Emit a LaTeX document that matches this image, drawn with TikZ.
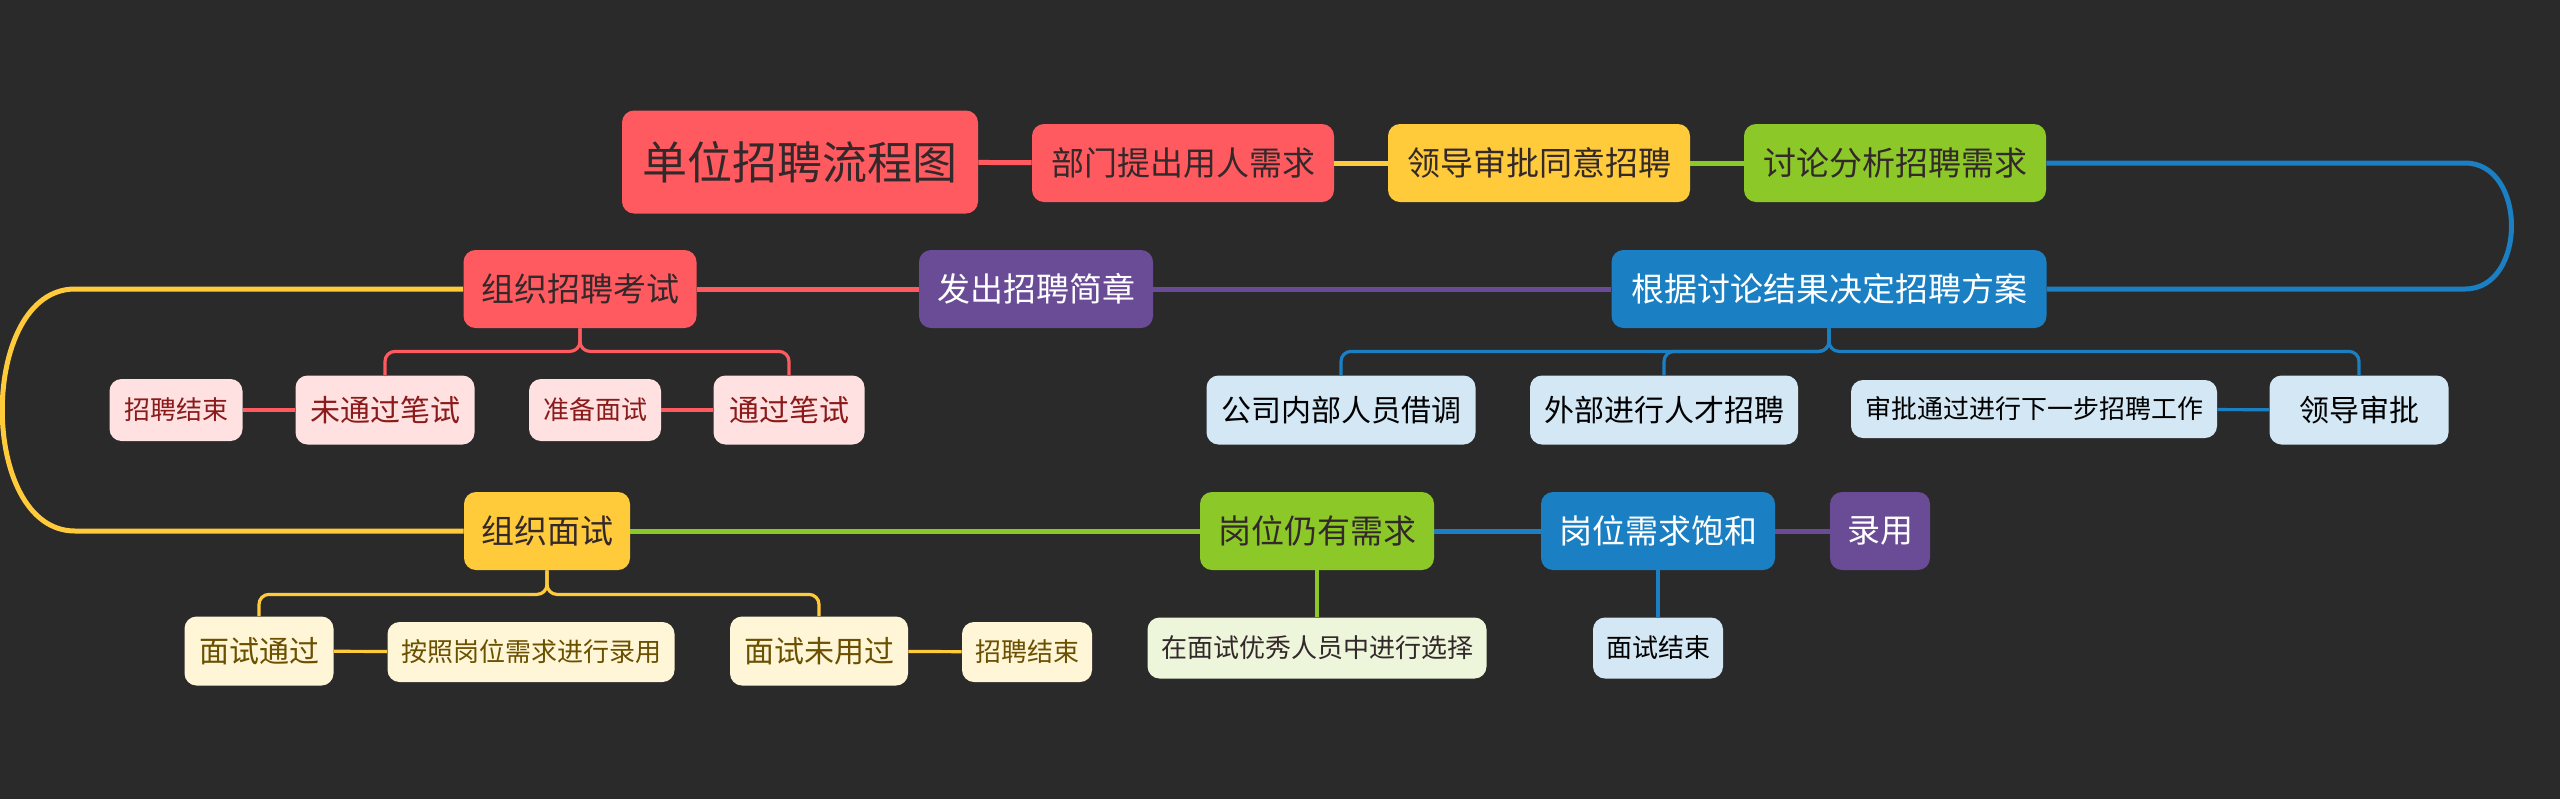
\documentclass[tikz,border=0pt]{standalone}
\usepackage{fontspec}
\setmainfont{Noto Sans CJK SC}
\usepackage{tikz}
\usetikzlibrary{positioning,calc}
\definecolor{bgcolor}{HTML}{2A2A2A}
\definecolor{Rcolor}{HTML}{FF5A5F}
\definecolor{Ycolor}{HTML}{FFCB3B}
\definecolor{Gcolor}{HTML}{8CC928}
\definecolor{Bcolor}{HTML}{1B80C3}
\definecolor{Pcolor}{HTML}{6A4C96}
\definecolor{Rlight}{HTML}{FFE1E1}
\definecolor{Ylight}{HTML}{FFF6D8}
\definecolor{Glight}{HTML}{EDF5DA}
\definecolor{Blight}{HTML}{D3E7F4}
\definecolor{darktext}{HTML}{33282A}
\definecolor{redtext}{HTML}{8B1A1A}
\definecolor{browntext}{HTML}{6B5000}

\begin{document}
\begin{tikzpicture}[
  x=0.5pt, y=-0.5pt,
  topic/.style={rounded corners=6pt, inner sep=0pt, minimum height=39pt, text=darktext, font=\fontsize{16.5}{18}\selectfont},
  sub/.style={rounded corners=6pt, inner sep=0pt, minimum height=34.5pt, font=\fontsize{15}{17}\selectfont},
  note/.style={rounded corners=6pt, inner sep=0pt, minimum height=30pt, font=\fontsize{13}{15}\selectfont},
  link/.style={line width=2.5pt},
  twig/.style={line width=1.6pt, rounded corners=5pt},
]
  \useasboundingbox (0,0) rectangle (2560,799);
  \fill[bgcolor] (0,0) rectangle (2560,799);

  % Main topic
  \node[topic, fill=Rcolor, minimum width=178pt, minimum height=51.5pt, font=\fontsize{22.5}{24}\selectfont] (root) at (800,162) {单位招聘流程图};

  % Top row
  \node[topic, fill=Rcolor, minimum width=151pt] (dept) at (1183,163) {部门提出用人需求};
  \node[topic, fill=Ycolor, minimum width=151pt] (lead) at (1539,163) {领导审批同意招聘};
  \node[topic, fill=Gcolor, minimum width=151pt] (discuss) at (1895,163) {讨论分析招聘需求};

  % Second row
  \node[topic, fill=Bcolor, text=white, minimum width=217.5pt] (plan) at (1829,289) {根据讨论结果决定招聘方案};
  \node[topic, fill=Pcolor, text=white, minimum width=117pt] (issue) at (1036,289) {发出招聘简章};
  \node[topic, fill=Rcolor, minimum width=116.5pt] (exam) at (580,289) {组织招聘考试};

  % Third row
  \node[topic, fill=Ycolor, minimum width=83pt] (interview) at (547,531) {组织面试};
  \node[topic, fill=Gcolor, minimum width=117pt] (still) at (1317,531) {岗位仍有需求};
  \node[topic, fill=Bcolor, text=white, minimum width=117pt] (full) at (1658,531) {岗位需求饱和};
  \node[topic, fill=Pcolor, text=white, minimum width=50pt] (hire) at (1880,531) {录用};

  % Exam results
  \node[note, fill=Rlight, text=redtext, minimum width=66.5pt, minimum height=31pt] (end1) at (176,410) {招聘结束};
  \node[sub, fill=Rlight, text=redtext, minimum width=89.5pt] (fail) at (385,410) {未通过笔试};
  \node[note, fill=Rlight, text=redtext, minimum width=66pt, minimum height=31pt] (prep) at (595,410) {准备面试};
  \node[sub, fill=Rlight, text=redtext, minimum width=75.5pt] (pass) at (789,410) {通过笔试};

  % Plan options
  \node[sub, fill=Blight, text=black, minimum width=134.5pt] (inner) at (1341,410) {公司内部人员借调};
  \node[sub, fill=Blight, text=black, minimum width=134pt] (outer) at (1664,410) {外部进行人才招聘};
  \node[note, fill=Blight, text=black, minimum width=183pt, minimum height=29pt] (approved) at (2034,409) {审批通过进行下一步招聘工作};
  \node[sub, fill=Blight, text=black, minimum width=89.5pt] (boss) at (2359,410) {领导审批};

  % Interview results
  \node[sub, fill=Ylight, text=browntext, minimum width=74.5pt] (ipass) at (259,651) {面试通过};
  \node[note, fill=Ylight, text=browntext, minimum width=143.5pt] (hireby) at (531,652) {按照岗位需求进行录用};
  \node[sub, fill=Ylight, text=browntext, minimum width=89pt] (ifail) at (819,651) {面试未用过};
  \node[note, fill=Ylight, text=browntext, minimum width=65pt] (end2) at (1027,652) {招聘结束};
  \node[note, fill=Glight, text=darktext, minimum width=169.5pt, minimum height=30.5pt] (choose) at (1317,648) {在面试优秀人员中进行选择};
  \node[note, fill=Blight, text=black, minimum width=65pt, minimum height=30.5pt] (ifin) at (1658,648) {面试结束};

  % Main flow
  \draw[link, Rcolor] (root) -- (dept);
  \draw[link, Ycolor] (dept) -- (lead);
  \draw[link, Gcolor] (lead) -- (discuss);
  \draw[link, Bcolor] (discuss.east) -- (2465,163) .. controls (2527,163) and (2527,289) .. (2465,289) -- (plan.east);
  \draw[link, Pcolor] (plan) -- (issue);
  \draw[link, Rcolor] (issue) -- (exam);
  \draw[link, Ycolor] (exam.west) -- (75,289) .. controls (-22,289) and (-22,531) .. (75,531) -- (interview.west);
  \draw[link, Gcolor] (interview) -- (still);
  \draw[link, Bcolor] (still) -- (full);
  \draw[link, Pcolor] (full) -- (hire);

  % Branches
  \draw[twig, Rcolor] (exam.south) -- ++(0,23) -| (fail.north);
  \draw[twig, Rcolor] (exam.south) -- ++(0,23) -| (pass.north);
  \draw[twig, Rcolor] (fail) -- (end1);
  \draw[twig, Rcolor] (pass) -- (prep);

  \draw[twig, Bcolor] (plan.south) -- ++(0,23) -| (inner.north);
  \draw[twig, Bcolor] (plan.south) -- ++(0,23) -| (outer.north);
  \draw[twig, Bcolor] (plan.south) -- ++(0,23) -| (boss.north);
  \draw[twig, Bcolor] (boss) -- (approved);

  \draw[twig, Ycolor] (interview.south) -- ++(0,24) -| (ipass.north);
  \draw[twig, Ycolor] (interview.south) -- ++(0,24) -| (ifail.north);
  \draw[twig, Ycolor] (ipass) -- (hireby);
  \draw[twig, Ycolor] (ifail) -- (end2);

  \draw[twig, Gcolor] (still.south) -- (choose.north);
  \draw[twig, Bcolor] (full.south) -- (ifin.north);
\end{tikzpicture}
\end{document}
